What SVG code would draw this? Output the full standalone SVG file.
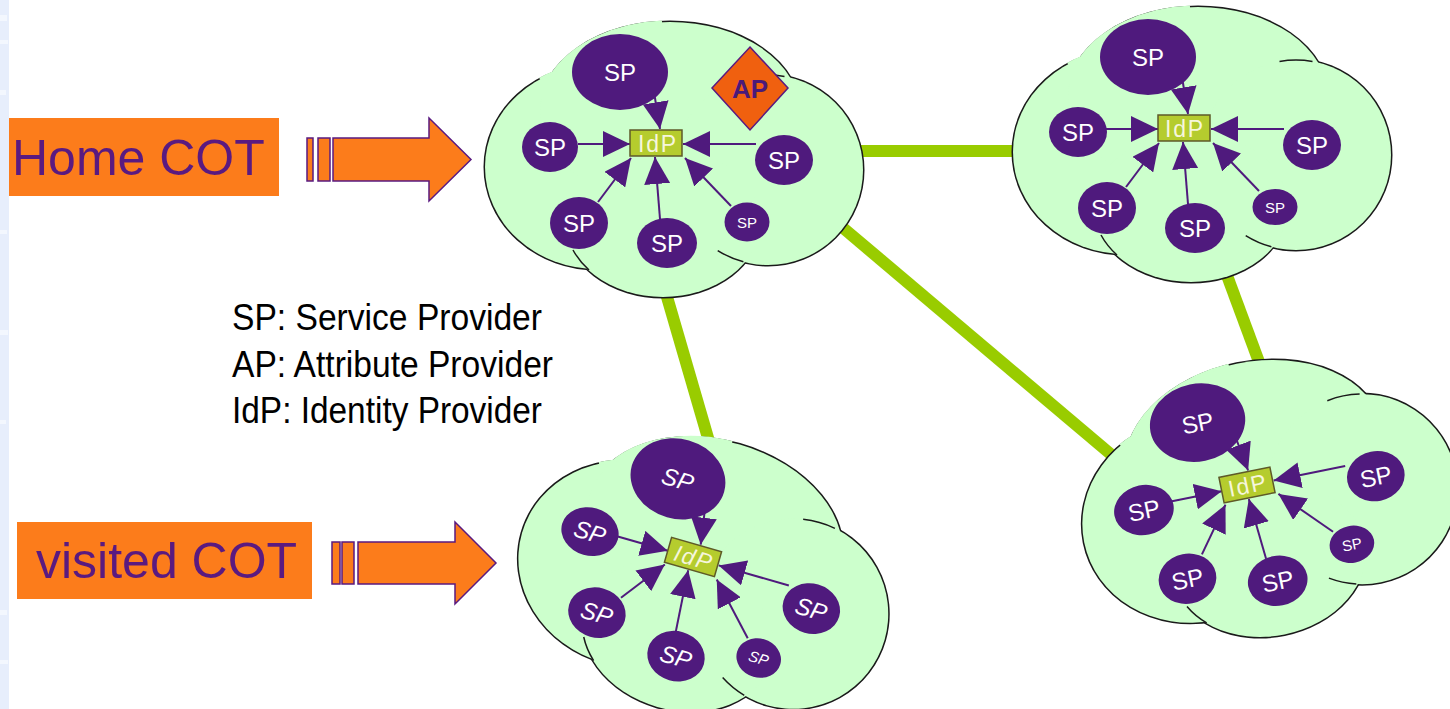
<svg xmlns="http://www.w3.org/2000/svg" xmlns:xlink="http://www.w3.org/1999/xlink" width="1450" height="709" viewBox="0 0 1450 709">
<style>
  .cl-line{fill:none;stroke:#1a1a1a;stroke-width:3}
  .cl-fill{fill:#ccffcc;stroke:none}
  .cl-gap{fill:none;stroke:#ccffcc;stroke-width:3.4}
  .tail{fill:none;stroke:#1a1a1a;stroke-width:1.5}
  .sp{fill:#4f1a7d}
  .sp-t{fill:#ffffff;font-family:"Liberation Sans",Arial,sans-serif;font-size:24px;text-anchor:middle}
  .sp-s{font-size:15px}
  .idp{fill:#b5cc2e;stroke:#5e5a28;stroke-width:1.5}
  .idp-t{fill:#f6f6dc;font-family:"Liberation Sans",Arial,sans-serif;font-size:23px;text-anchor:middle}
  .ital text{font-style:italic}
  .arr{stroke:#4f1a7d;stroke-width:2;marker-end:url(#head)}
  .link{stroke:#99cc00;stroke-width:12}
  .cot{fill:#fc7c1b}
  .cot-t{fill:#5a1a80;font-family:"Liberation Sans",Arial,sans-serif;font-size:50px}
  .big-arrow{fill:#fc7c1b;stroke:#5a1a80;stroke-width:1.5}
  .legend{fill:#000000;font-family:"Liberation Sans",Arial,sans-serif;font-size:36px}
</style>
<defs>
  <marker id="head" markerUnits="userSpaceOnUse" viewBox="0 0 27 26" refX="27" refY="13" markerWidth="27" markerHeight="26" orient="auto">
    <path d="M0,0 L27,13 L0,26 Z" fill="#4f1a7d"/>
  </marker>
  <g id="cloud-shape">
    <g class="cl-line">
      <ellipse cx="597" cy="167" rx="112" ry="102"/>
      <ellipse cx="670" cy="112" rx="130" ry="90"/>
      <circle cx="768" cy="170" r="95"/>
      <ellipse cx="663" cy="222" rx="97" ry="75"/>
    </g>
    <g class="cl-fill">
      <ellipse cx="597" cy="167" rx="112" ry="102"/>
      <ellipse cx="670" cy="112" rx="130" ry="90"/>
      <circle cx="768" cy="170" r="95"/>
      <ellipse cx="663" cy="222" rx="97" ry="75"/>
    </g>
    <path class="cl-gap" d="M540,79.2 A112,102 0 0 1 553,73.2 A130,90 0 0 1 662,22.2"/>
    <path class="tail" d="M573,250 A97,75 0 0 0 589,270"/>
    <path class="tail" d="M717.7,250.6 A95,95 0 0 0 743.4,261.8"/>
    <path class="tail" d="M751.5,76.4 A95,95 0 0 1 784.5,76.4"/>
  </g>
</defs>

<rect x="0" y="0" width="1450" height="709" fill="#ffffff"/>
<g id="left-strip">
  <rect x="0" y="0" width="9" height="709" fill="#e7eefc"/>
  <rect x="0" y="15" width="7" height="6" fill="#f3f7fe"/>
  <rect x="0" y="40" width="8" height="4" fill="#f3f7fe"/>
  <rect x="0" y="90" width="6" height="5" fill="#f3f7fe"/>
  <rect x="0" y="230" width="7" height="4" fill="#f3f7fe"/>
  <rect x="0" y="330" width="8" height="5" fill="#f3f7fe"/>
  <rect x="0" y="420" width="6" height="4" fill="#f3f7fe"/>
  <rect x="0" y="610" width="7" height="5" fill="#f3f7fe"/>
  <rect x="0" y="660" width="8" height="4" fill="#f3f7fe"/>
</g>

<g id="cot-links" class="connectors">
  <line class="link" x1="855" y1="151" x2="1020" y2="151"/>
  <line class="link" x1="842" y1="227" x2="1120" y2="462"/>
  <line class="link" x1="665" y1="290" x2="715" y2="462"/>
  <line class="link" x1="1222" y1="262" x2="1262" y2="370"/>
</g>

<g id="home-cot-label">
  <rect class="cot" x="9" y="118" width="270" height="78"/>
  <text class="cot-t" x="12" y="175">Home COT</text>
</g>
<g id="home-cot-arrow">
  <rect class="big-arrow" x="307" y="138" width="6" height="43"/>
  <rect class="big-arrow" x="318" y="138" width="12" height="43"/>
  <path class="big-arrow" d="M333,138 H429 V118 L471,159.5 L429,201 V181 H333 Z"/>
</g>
<g id="visited-cot-label">
  <rect class="cot" x="17" y="522" width="295" height="77"/>
  <text class="cot-t" x="36" y="578">visited COT</text>
</g>
<g id="visited-cot-arrow">
  <rect class="big-arrow" x="332" y="542" width="8" height="42"/>
  <rect class="big-arrow" x="342" y="542" width="12" height="42"/>
  <path class="big-arrow" d="M358,542 H455 V522 L496,563 L455,604 V584 H358 Z"/>
</g>

<g id="legend">
  <text class="legend" x="232" y="330" textLength="310" lengthAdjust="spacingAndGlyphs">SP: Service Provider</text>
  <text class="legend" x="232" y="377" textLength="321" lengthAdjust="spacingAndGlyphs">AP: Attribute Provider</text>
  <text class="legend" x="232" y="423" textLength="310" lengthAdjust="spacingAndGlyphs">IdP: Identity Provider</text>
</g>

<!-- Cloud 1: Home COT -->
<g id="cot-home">
  <use xlink:href="#cloud-shape" href="#cloud-shape"/>
  <g id="c1-arrows" class="connectors">
    <line class="arr" x1="654" y1="92" x2="660" y2="129"/>
    <line class="arr" x1="578" y1="144" x2="630" y2="144"/>
    <line class="arr" x1="756" y1="144" x2="683" y2="144"/>
    <line class="arr" x1="598" y1="202" x2="631" y2="158"/>
    <line class="arr" x1="660" y1="219" x2="655" y2="157"/>
    <line class="arr" x1="731" y1="206" x2="685" y2="158"/>
  </g>
  <g id="c1-sp-top"><ellipse class="sp" cx="620" cy="72" rx="48" ry="38"/><text class="sp-t" x="620" y="81">SP</text></g>
  <g id="c1-sp-left"><ellipse class="sp" cx="550" cy="147" rx="28" ry="25"/><text class="sp-t" x="550" y="156">SP</text></g>
  <g id="c1-sp-right"><ellipse class="sp" cx="784" cy="160" rx="29" ry="25"/><text class="sp-t" x="784" y="169">SP</text></g>
  <g id="c1-sp-bl"><ellipse class="sp" cx="579" cy="223" rx="29" ry="26"/><text class="sp-t" x="579" y="232">SP</text></g>
  <g id="c1-sp-bm"><ellipse class="sp" cx="667" cy="243" rx="30" ry="25"/><text class="sp-t" x="667" y="252">SP</text></g>
  <g id="c1-sp-small"><ellipse class="sp" cx="747" cy="222" rx="22.5" ry="19.5"/><text class="sp-t sp-s" x="747" y="227.5">SP</text></g>
  <g id="c1-idp"><rect class="idp" x="630" y="130" width="52" height="26"/><text class="idp-t" x="657" y="151.5" textLength="38" lengthAdjust="spacing">IdP</text></g>
  <g id="c1-ap">
    <polygon points="750,47 788,88 750,130 712,88" fill="#f0600f" stroke="#5a1a80" stroke-width="1.5"/>
    <text x="750" y="98" fill="#4a1a7a" font-family="'Liberation Sans',Arial,sans-serif" font-size="26" font-weight="bold" text-anchor="middle">AP</text>
  </g>
</g>

<!-- Cloud 2: top right -->
<g id="cot-top-right" transform="translate(528,-15)">
  <use xlink:href="#cloud-shape" href="#cloud-shape"/>
  <g id="c2-arrows" class="connectors">
    <line class="arr" x1="654" y1="92" x2="660" y2="129"/>
    <line class="arr" x1="578" y1="144" x2="630" y2="144"/>
    <line class="arr" x1="756" y1="144" x2="683" y2="144"/>
    <line class="arr" x1="598" y1="202" x2="631" y2="158"/>
    <line class="arr" x1="660" y1="219" x2="655" y2="157"/>
    <line class="arr" x1="731" y1="206" x2="685" y2="158"/>
  </g>
  <g id="c2-sp-top"><ellipse class="sp" cx="620" cy="72" rx="48" ry="38"/><text class="sp-t" x="620" y="81">SP</text></g>
  <g id="c2-sp-left"><ellipse class="sp" cx="550" cy="147" rx="29" ry="25"/><text class="sp-t" x="550" y="156">SP</text></g>
  <g id="c2-sp-right"><ellipse class="sp" cx="784" cy="160" rx="29" ry="25"/><text class="sp-t" x="784" y="169">SP</text></g>
  <g id="c2-sp-bl"><ellipse class="sp" cx="579" cy="223" rx="29" ry="26"/><text class="sp-t" x="579" y="232">SP</text></g>
  <g id="c2-sp-bm"><ellipse class="sp" cx="667" cy="243" rx="30" ry="25"/><text class="sp-t" x="667" y="252">SP</text></g>
  <g id="c2-sp-small"><ellipse class="sp" cx="747" cy="222" rx="22.5" ry="18"/><text class="sp-t sp-s" x="747" y="227.5">SP</text></g>
  <g id="c2-idp"><rect class="idp" x="630" y="130" width="52" height="26"/><text class="idp-t" x="656" y="151.5" textLength="38" lengthAdjust="spacing">IdP</text></g>
</g>

<!-- Cloud 3: visited COT -->
<g id="cot-visited" class="ital" transform="translate(693,557) rotate(16) translate(-656,-143)">
  <use xlink:href="#cloud-shape" href="#cloud-shape"/>
  <g id="c3-arrows" class="connectors">
    <line class="arr" x1="654" y1="92" x2="660" y2="129"/>
    <line class="arr" x1="578" y1="144" x2="630" y2="144"/>
    <line class="arr" x1="756" y1="144" x2="683" y2="144"/>
    <line class="arr" x1="598" y1="202" x2="631" y2="158"/>
    <line class="arr" x1="660" y1="219" x2="655" y2="157"/>
    <line class="arr" x1="731" y1="206" x2="685" y2="158"/>
  </g>
  <g id="c3-sp-top"><ellipse class="sp" cx="620" cy="72" rx="48" ry="40"/><text class="sp-t" x="620" y="81">SP</text></g>
  <g id="c3-sp-left"><ellipse class="sp" cx="550" cy="147" rx="29" ry="24"/><text class="sp-t" x="550" y="156">SP</text></g>
  <g id="c3-sp-right"><ellipse class="sp" cx="784" cy="160" rx="29" ry="25"/><text class="sp-t" x="784" y="169">SP</text></g>
  <g id="c3-sp-bl"><ellipse class="sp" cx="579" cy="223" rx="29" ry="25"/><text class="sp-t" x="579" y="232">SP</text></g>
  <g id="c3-sp-bm"><ellipse class="sp" cx="667" cy="243" rx="29" ry="25"/><text class="sp-t" x="667" y="252">SP</text></g>
  <g id="c3-sp-small"><ellipse class="sp" cx="747" cy="222" rx="22.5" ry="19.5"/><text class="sp-t sp-s" x="747" y="227.5">SP</text></g>
  <g id="c3-idp"><rect class="idp" x="630" y="130" width="52" height="26"/><text class="idp-t" x="656" y="151.5" textLength="38" lengthAdjust="spacing">IdP</text></g>
</g>

<!-- Cloud 4: bottom right -->
<g id="cot-bottom-right" transform="translate(1247,485) rotate(-11.5) translate(-656,-143)">
  <use xlink:href="#cloud-shape" href="#cloud-shape"/>
  <g id="c4-arrows" class="connectors">
    <line class="arr" x1="654" y1="92" x2="660" y2="129"/>
    <line class="arr" x1="578" y1="144" x2="630" y2="144"/>
    <line class="arr" x1="756" y1="144" x2="683" y2="144"/>
    <line class="arr" x1="598" y1="202" x2="631" y2="158"/>
    <line class="arr" x1="660" y1="219" x2="655" y2="157"/>
    <line class="arr" x1="731" y1="206" x2="685" y2="158"/>
  </g>
  <g id="c4-sp-top"><ellipse class="sp" cx="620" cy="72" rx="48" ry="39"/><text class="sp-t" x="620" y="81">SP</text></g>
  <g id="c4-sp-left"><ellipse class="sp" cx="550" cy="147" rx="30" ry="25"/><text class="sp-t" x="550" y="156">SP</text></g>
  <g id="c4-sp-right"><ellipse class="sp" cx="784" cy="160" rx="29" ry="25"/><text class="sp-t" x="784" y="169">SP</text></g>
  <g id="c4-sp-bl"><ellipse class="sp" cx="579" cy="223" rx="29" ry="25"/><text class="sp-t" x="579" y="232">SP</text></g>
  <g id="c4-sp-bm"><ellipse class="sp" cx="667" cy="243" rx="30" ry="25"/><text class="sp-t" x="667" y="252">SP</text></g>
  <g id="c4-sp-small"><ellipse class="sp" cx="747" cy="222" rx="22.5" ry="18.5"/><text class="sp-t sp-s" x="747" y="227.5">SP</text></g>
  <g id="c4-idp"><rect class="idp" x="630" y="130" width="52" height="26"/><text class="idp-t" x="656" y="151.5" textLength="38" lengthAdjust="spacing">IdP</text></g>
</g>
</svg>
